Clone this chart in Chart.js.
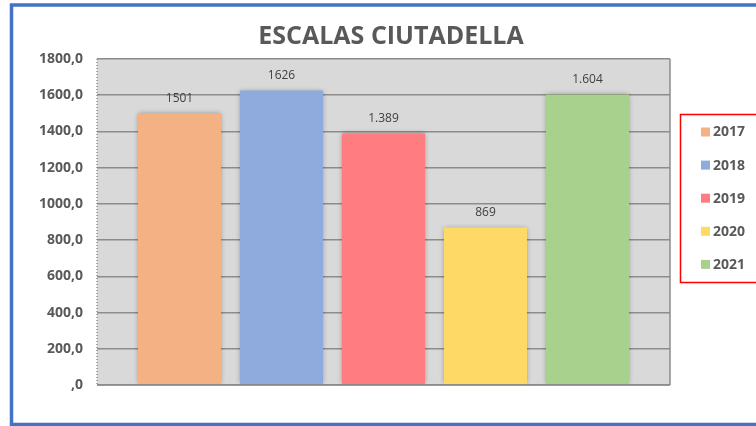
<!DOCTYPE html>
<html>
<head>
<meta charset="utf-8">
<script src="https://cdn.jsdelivr.net/npm/chart.js@4"></script>
<style>
  body { margin: 0; background: #fff; }
  canvas { display: block; }
</style>
</head>
<body>
<canvas id="chart" width="756" height="426"></canvas>
<script>
// Data
const years = ['2017', '2018', '2019', '2020', '2021'];
const visitors = [1501, 1626, 1389, 869, 1604];
const valueLabels = ['1501', '1626', '1.389', '869', '1.604'];
const yTickLabels = [',0', '200,0', '400,0', '600,0', '800,0', '1000,0', '1200,0', '1400,0', '1600,0', '1800,0'];

const barColors = ['#F4B183', '#8FAADC', '#FF7C80', '#FFD966', '#A9D18E'];
const textGrey = '#595959';
const fontFamily = '"Open Sans", "DejaVu Sans", sans-serif';

// background, plot area fill
const backdrop = {
    id: 'backdrop',
    beforeDraw(chart) {
        const ctx = chart.ctx;
        const a = chart.chartArea;
        ctx.save();
        ctx.fillStyle = '#ffffff';
        ctx.fillRect(0, 0, chart.width, chart.height);
        ctx.fillStyle = '#D9D9D9';
        ctx.fillRect(a.left, a.top, a.right - a.left, a.bottom - a.top);
        ctx.restore();
    },
    beforeDatasetsDraw(chart) {
        const ctx = chart.ctx;
        ctx.save();
        ctx.shadowColor = 'rgba(0,0,0,0.35)';
        ctx.shadowBlur = 5;
        ctx.shadowOffsetX = 0;
        ctx.shadowOffsetY = 0;
    },
    afterDatasetsDraw(chart) {
        chart.ctx.restore();
    }
};

// title, frame, value labels and legend box
const decorations = {
    id: 'decorations',
    afterDraw(chart) {
        const ctx = chart.ctx;
        const a = chart.chartArea;
        ctx.save();

        // plot borders
        ctx.strokeStyle = '#8c8c8c';
        ctx.lineWidth = 1.5;
        ctx.beginPath();
        ctx.moveTo(a.right, a.top);
        ctx.lineTo(a.right, a.bottom);
        ctx.moveTo(a.left, a.bottom);
        ctx.lineTo(a.right, a.bottom);
        ctx.stroke();
        ctx.setLineDash([1, 2]);
        ctx.beginPath();
        ctx.moveTo(a.left, a.top);
        ctx.lineTo(a.left, a.bottom);
        ctx.stroke();
        ctx.setLineDash([]);

        // value labels above bars
        ctx.fillStyle = '#404040';
        ctx.font = '12px ' + fontFamily;
        ctx.textAlign = 'center';
        ctx.textBaseline = 'middle';
        chart.data.datasets.forEach((ds, i) => {
            const bar = chart.getDatasetMeta(i).data[0];
            ctx.fillText(valueLabels[i], bar.x, bar.y - 15);
        });

        // title
        ctx.fillStyle = textGrey;
        ctx.font = 'bold 25px ' + fontFamily;
        ctx.textBaseline = 'alphabetic';
        ctx.fillText('ESCALAS CIUTADELLA', 391, 43.5);

        // legend
        ctx.strokeStyle = '#FF0000';
        ctx.lineWidth = 1.5;
        ctx.strokeRect(680.5, 114.5, 120, 168);
        ctx.font = 'bold 14px ' + fontFamily;
        ctx.textAlign = 'left';
        ctx.textBaseline = 'middle';
        years.forEach((y, i) => {
            const cy = 132 + i * 33.1;
            ctx.fillStyle = barColors[i];
            ctx.fillRect(701, cy - 4.5, 9, 9);
            ctx.fillStyle = textGrey;
            ctx.fillText(y, 713, cy + 0.5);
        });

        // outer frame
        ctx.strokeStyle = '#4472C4';
        ctx.lineWidth = 3.5;
        ctx.strokeRect(11.5, 5, 800, 419.5);
        ctx.restore();
    }
};

const ctx = document.getElementById('chart').getContext('2d');
const chart = new Chart(ctx, {
    type: 'bar',
    data: {
        labels: [''],
        datasets: years.map((y, i) => ({
            label: y,
            data: [visitors[i]],
            backgroundColor: barColors[i],
            borderWidth: 0
        }))
    },
    options: {
        responsive: false,
        animation: false,
        layout: { padding: { left: 20, top: 59, right: 86, bottom: 41 } },
        datasets: { bar: { categoryPercentage: 0.89, barPercentage: 0.814 } },
        plugins: {
            legend: { display: false },
            title: { display: false },
            tooltip: { enabled: false }
        },
        scales: {
            x: { display: false },
            y: {
                min: 0,
                max: 1800,
                afterFit: function(scale) { scale.width = 77; },
                ticks: {
                    stepSize: 200,
                    padding: 14,
                    color: textGrey,
                    font: { family: fontFamily, size: 14, weight: 'bold' },
                    callback: function(value) { return yTickLabels[Math.round(value / 200)]; }
                },
                grid: { color: '#8c8c8c', lineWidth: 1.5, drawTicks: false },
                border: { display: false }
            }
        }
    },
    plugins: [backdrop, decorations]
});
</script>
</body>
</html>
